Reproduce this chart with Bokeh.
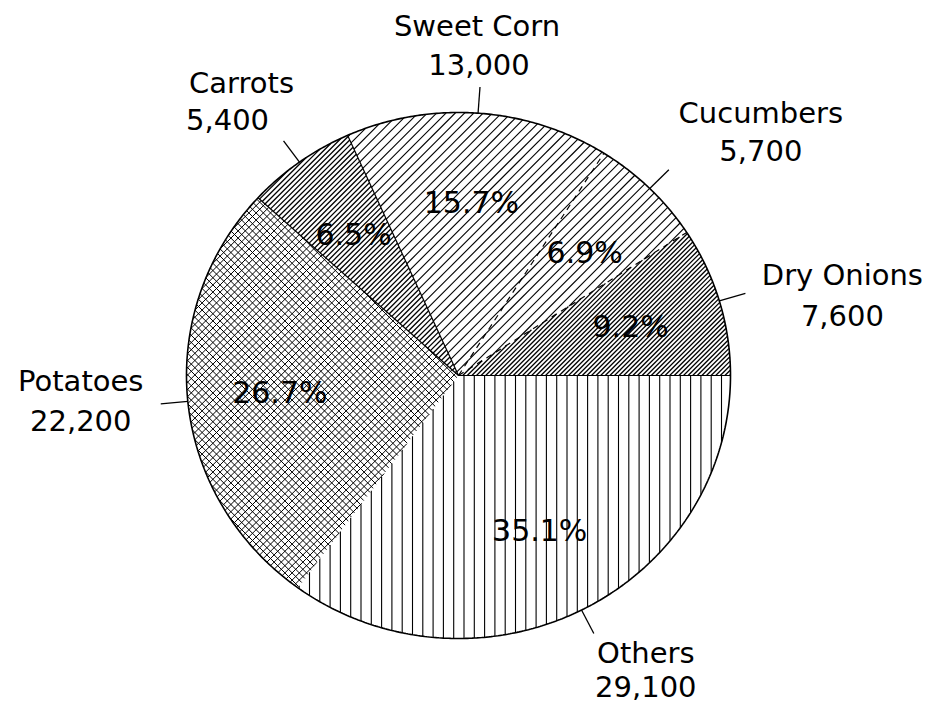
import numpy as np
from bokeh.plotting import figure
from bokeh.models import Range1d
from bokeh.embed import file_html
from bokeh.resources import INLINE
from bokeh.core.properties import value

# ---------------- data ----------------
categories = ["Dry Onions", "Cucumbers", "Sweet Corn", "Carrots", "Potatoes", "Others"]
values = [7600, 5700, 13000, 5400, 22200, 29100]

# ---------------- layout / style ----------------
W, H = 934, 706
CX, CY = 458, 375          # pie centre (px in figure)
RX, RY = 272, 263          # pie radii (px)
FONT = value("DejaVu Sans")

# hatch per slice: kind, period (px), line width
hatch_kind = ["diag", "diag", "diag", "diag", "cross", "vert"]
hatch_step = [4.6, 9.3, 9.3, 5.2, 7.2, 10.3]
hatch_width = [1.3, 1.1, 1.1, 1.3, 1.0, 1.1]

# label offsets (text-line centres) relative to leader end: (dx1, dy1, dx2, dy2)
label_off = [(97, -18, 97, 22), (92, -57, 92, -19), (-3, -61, -1, -22),
             (-42, -58, -56, -21), (-80, -23, -80, 17), (52, 19, 52, 53)]

# boundary line styles at each slice start angle (index i = start of slice i)
boundary_style = ["solid", "dash", "dash", "solid", "solid", None]

# ---------------- geometry ----------------
vals = np.array(values, dtype=float)
total = vals.sum()
frac = vals / total
ends = np.cumsum(frac) * 2 * np.pi
starts = ends - frac * 2 * np.pi
mids = (starts + ends) / 2


def ell(a, r=1.0):
    return CX + RX * r * np.cos(a), CY - RY * r * np.sin(a)


def clip_family(px, py, nx, ny, step):
    proj = px * nx + py * ny
    X1, Y1 = np.roll(px, -1), np.roll(py, -1)
    p0 = proj
    p1 = X1 * nx + Y1 * ny
    dx, dy = -ny, nx
    xs, ys = [], []
    cs = np.arange(np.ceil(proj.min() / step) * step, proj.max(), step)
    for c in cs:
        s0 = p0 - c
        s1 = p1 - c
        m = (s0 * s1) < 0
        if m.sum() < 2:
            continue
        t = s0[m] / (s0[m] - s1[m])
        ix = px[m] + t * (X1[m] - px[m])
        iy = py[m] + t * (Y1[m] - py[m])
        al = ix * dx + iy * dy
        i0, i1 = np.argmin(al), np.argmax(al)
        xs.append([float(ix[i0]), float(ix[i1])])
        ys.append([float(iy[i0]), float(iy[i1])])
    return xs, ys


p = figure(width=W, height=H, x_range=Range1d(0, W), y_range=Range1d(H, 0),
           output_backend="svg", toolbar_location=None,
           x_axis_type=None, y_axis_type=None, min_border=0)
p.outline_line_color = None
p.background_fill_color = "white"
p.border_fill_color = "white"

slice_xs, slice_ys = [], []
hx, hy, hw = [], [], []
for i in range(len(values)):
    a = np.linspace(starts[i], ends[i], 240)
    ex, ey = ell(a)
    px = np.concatenate([[CX], ex])
    py = np.concatenate([[CY], ey])
    slice_xs.append(px.tolist())
    slice_ys.append(py.tolist())
    fams = {"diag": [(1, 1)], "cross": [(1, 1), (1, -1)], "vert": [(1, 0)]}[hatch_kind[i]]
    for nx, ny in fams:
        xs, ys = clip_family(px, py, nx, ny, hatch_step[i])
        hx += xs
        hy += ys
        hw += [hatch_width[i]] * len(xs)

p.patches(slice_xs, slice_ys, fill_color="white", line_color=None)
p.multi_line(xs=hx, ys=hy, line_color="black", line_width=hw)

# outline
aa = np.linspace(0, 2 * np.pi, 720)
ox, oy = ell(aa)
p.line(ox, oy, line_color="black", line_width=1.6)

# radial boundaries
for i, st in enumerate(boundary_style):
    if st is None:
        continue
    bx, by = ell(starts[i])
    p.line([CX, bx], [CY, by], line_color="black", line_width=1.2,
           line_dash=("solid" if st == "solid" else "6 5"))

# leaders
lx0, ly0 = ell(mids, 1.0)
lx1, ly1 = ell(mids, 1.1)
p.segment(lx0, ly0, lx1, ly1, line_color="black", line_width=1.3)

# outer labels
t1x = [lx1[i] + label_off[i][0] for i in range(len(values))]
t1y = [ly1[i] + label_off[i][1] for i in range(len(values))]
t2x = [lx1[i] + label_off[i][2] for i in range(len(values))]
t2y = [ly1[i] + label_off[i][3] for i in range(len(values))]
p.text(t1x, t1y, text=categories, text_align="center", text_baseline="middle",
       text_font=FONT, text_font_size="29px", text_color="black")
p.text(t2x, t2y, text=[f"{int(v):,}" for v in values], text_align="center",
       text_baseline="middle", text_font=FONT, text_font_size="29px", text_color="black")

# percentage labels
qx, qy = ell(mids, 0.66)
p.text(qx, qy, text=[f"{v / total * 100:.1f}%" for v in vals], text_align="center",
       text_baseline="middle", text_font=FONT, text_font_size="30px", text_color="black")

open("out.html", "w").write(file_html(p, INLINE))
